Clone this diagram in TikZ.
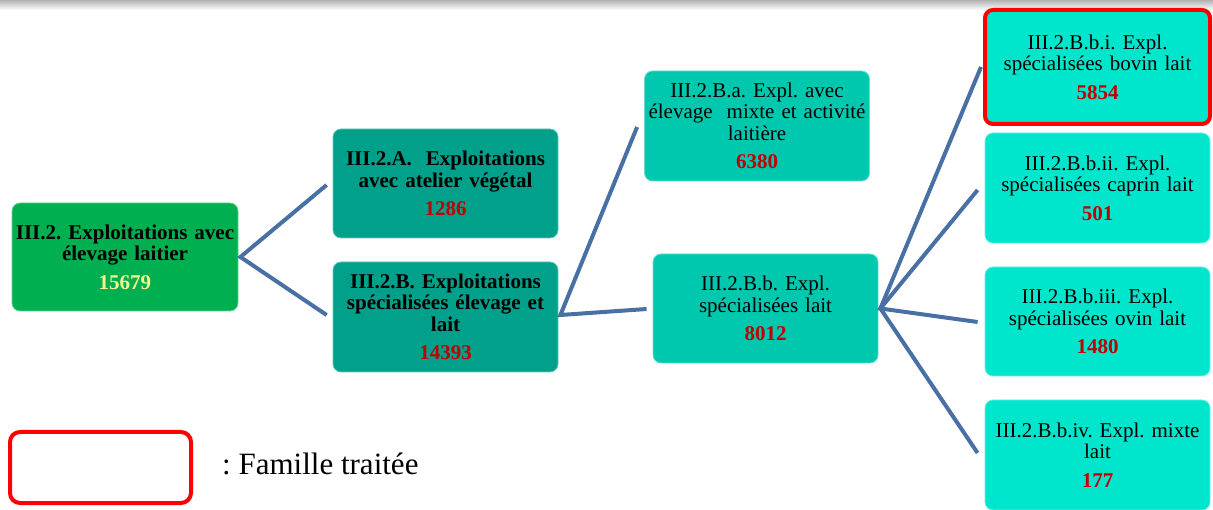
\documentclass[tikz,border=0pt]{standalone}
\usepackage{fontspec}
\setmainfont{Liberation Serif}
\usetikzlibrary{calc}
\frenchspacing
\definecolor{rootgreen}{RGB}{0,176,80}
\definecolor{tealA}{RGB}{0,160,138}
\definecolor{tealB}{RGB}{0,200,175}
\definecolor{tealC}{RGB}{0,230,205}
\definecolor{numred}{RGB}{192,0,0}
\definecolor{numyellow}{RGB}{245,245,140}
\definecolor{linkblue}{RGB}{72,112,165}
\definecolor{famred}{RGB}{255,0,0}
\tikzset{
 box/.style={rectangle, rounded corners=8pt, inner sep=0pt, align=center,
   minimum width=225pt, minimum height=109pt, text width=222pt,
   font=\fontsize{21}{21.5}\selectfont},
 boldbox/.style={box, font=\fontsize{21}{21.5}\selectfont\bfseries},
 lvl0/.style={boldbox, fill=rootgreen, draw=rootgreen!60!white, line width=0.8pt, minimum width=226pt, minimum height=108pt},
 lvl1/.style={boldbox, fill=tealA, draw=tealA!60!white, line width=0.8pt},
 lvl2/.style={box, fill=tealB, draw=tealB!60!white, line width=0.8pt},
 lvl3/.style={box, fill=tealC, draw=tealC!60!white, line width=0.8pt},
 treated/.style={draw=famred, line width=4pt},
 link/.style={draw=linkblue, line width=4pt},
}
\newcommand{\nbred}[1]{\\[7pt]{\bfseries\color{numred}#1}}
\begin{document}
\begin{tikzpicture}[x=1pt,y=-1pt]
\useasboundingbox (0,0) rectangle (1213,510);
\shade[top color=gray!60, bottom color=white] (0,0) rectangle (1213,10);

\node[lvl0] (root) at (125,257) {III.2. Exploitations avec\\élevage laitier\\[7pt]{\color{numyellow}15679}};
\node[lvl1] (A) at (445.5,183.5) {III.2.A.~ Exploitations\\avec atelier végétal\nbred{1286}};
\node[lvl1, minimum height=110pt] (B) at (445.5,317) {III.2.B. Exploitations\\spécialisées élevage et\\lait\nbred{14393}};
\node[lvl2, minimum height=110pt] (Ba) at (757,126) {III.2.B.a. Expl. avec\\élevage~ mixte et activité\\laitière\nbred{6380}};
\node[lvl2] (Bb) at (765.5,308.5) {III.2.B.b. Expl.\\spécialisées lait\nbred{8012}};
\node[lvl3, treated, minimum height=114pt] (Bbi) at (1097.5,67) {III.2.B.b.i. Expl.\\spécialisées bovin lait\nbred{5854}};
\node[lvl3, minimum height=110pt] (Bbii) at (1097.5,188) {III.2.B.b.ii. Expl.\\spécialisées caprin lait\nbred{501}};
\node[lvl3] (Bbiii) at (1097.5,321.5) {III.2.B.b.iii. Expl.\\spécialisées ovin lait\nbred{1480}};
\node[lvl3, minimum height=110pt] (Bbiv) at (1097.5,455) {III.2.B.b.iv. Expl. mixte\\lait\nbred{177}};

\coordinate (v0) at ($(root.east)+(2,0)$);
\draw[link] ($(A.west)+(-6,1.5)$) -- (v0) -- ($(B.west)+(-6,-2)$);
\coordinate (v1) at ($(B.east)+(2,-2)$);
\draw[link] ($(Ba.west)+(-7,1)$) -- (v1) -- ($(Bb.west)+(-6,0.5)$);
\coordinate (v2) at ($(Bb.east)+(2,0)$);
\draw[link] ($(Bbi.west)+(-2,0)$) -- (v2) -- ($(Bbiv.west)+(-7,-2)$);
\draw[link] ($(Bbii.west)+(-7,2)$) -- (v2) -- ($(Bbiii.west)+(-7,0.5)$);

\node[draw=famred, line width=4pt, rounded corners=10pt, minimum width=181pt, minimum height=71pt, inner sep=0pt, fill=white] (legend) at (100.5,467.5) {};
\node[anchor=base west, inner sep=0pt, font=\fontsize{31}{31}\selectfont] (legtxt) at (222,475) {: Famille traitée};
\end{tikzpicture}
\end{document}
